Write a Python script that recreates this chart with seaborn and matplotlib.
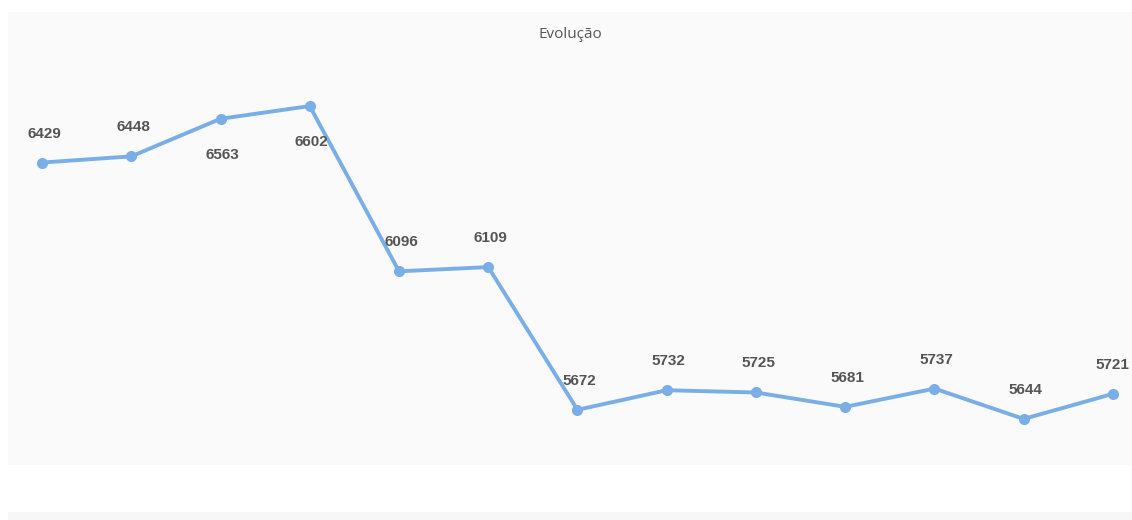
import matplotlib
matplotlib.use("Agg")
import matplotlib.pyplot as plt
import seaborn as sns
import pandas as pd
from matplotlib.patches import Rectangle

periods = list(range(13))
values = [6429, 6448, 6563, 6602, 6096, 6109, 5672, 5732, 5725, 5681, 5737, 5644, 5721]
label_below = [False, False, True, True, False, False, False, False, False, False, False, False, False]
title = "Evolução"

sns.set_theme(style="white")
plt.rcParams['font.family'] = ['Liberation Sans', 'DejaVu Sans']

df = pd.DataFrame({"period": periods, "value": values})

fig = plt.figure(figsize=(11.32, 5.2), dpi=100)
fig.patch.set_facecolor("white")
ax = fig.add_axes([8/1132, 55/520, 1124/1132, 453/520])
ax.set_facecolor("#fafafa")

color = "#7aaee6"
sns.lineplot(data=df, x="period", y="value", ax=ax, color=color, linewidth=2.8,
             marker="o", markersize=8, markeredgewidth=0, markerfacecolor=color)

n = len(values)
for i, (x, v, below) in enumerate(zip(periods, values, label_below)):
    off = -36 if below else 29
    dx = -1 if i == n - 1 else 2
    ax.annotate(str(v), (x, v), xytext=(dx, off), textcoords="offset pixels",
                ha="center", va="center", fontsize=11, fontweight="bold", color="#555555")

ax.set_xlim(-0.381, 12.213)
ax.set_ylim(5503, 6890)
ax.set_xlabel("")
ax.set_ylabel("")
ax.set_xticks([])
ax.set_yticks([])
for s in ax.spines.values():
    s.set_visible(False)
ax.text(0.5, 1 - 23/453, title, transform=ax.transAxes, ha="center", va="center",
        fontsize=11, color="#555555", family=['Open Sans', 'DejaVu Sans'])

fig.patches.append(Rectangle((8/1132, 0), 1, 8/520, transform=fig.transFigure,
                             facecolor="#f7f7f7", edgecolor="none"))

fig.savefig("out.png", dpi=100)
